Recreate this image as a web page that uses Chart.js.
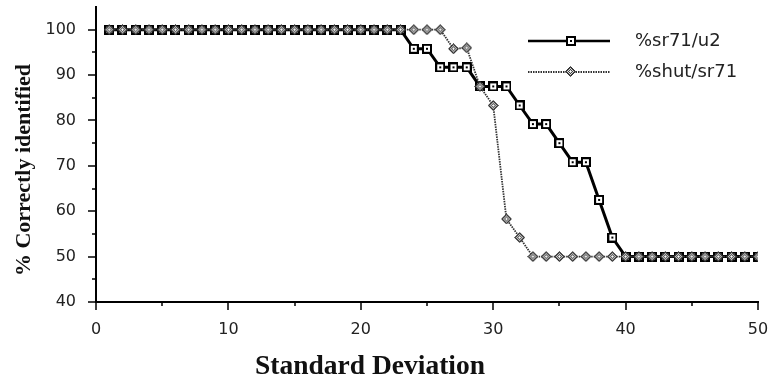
<!DOCTYPE html>
<html>
<head>
<meta charset="utf-8">
<script src="https://cdn.jsdelivr.net/npm/chart.js@4/dist/chart.umd.min.js"></script>
<style>
  html, body { margin: 0; padding: 0; background: #fff; }
</style>
</head>
<body>
<canvas id="sdChart" width="771" height="383"></canvas>
<script>
// standard deviation steps (x) and % correctly identified for each pair
const sdValues = [1, 2, 3, 4, 5, 6, 7, 8, 9, 10, 11, 12, 13, 14, 15, 16, 17, 18, 19, 20,
  21, 22, 23, 24, 25, 26, 27, 28, 29, 30, 31, 32, 33, 34, 35, 36, 37, 38, 39, 40,
  41, 42, 43, 44, 45, 46, 47, 48, 49, 50];
const sr71u2 = [100, 100, 100, 100, 100, 100, 100, 100, 100, 100, 100, 100, 100, 100, 100, 100, 100, 100, 100, 100,
  100, 100, 100, 95.8, 95.8, 91.7, 91.7, 91.7, 87.5, 87.5, 87.5, 83.3, 79.2, 79.2, 75, 70.8, 70.8, 62.5, 54.2, 50,
  50, 50, 50, 50, 50, 50, 50, 50, 50, 50];
const shutSr71 = [100, 100, 100, 100, 100, 100, 100, 100, 100, 100, 100, 100, 100, 100, 100, 100, 100, 100, 100, 100,
  100, 100, 100, 100, 100, 100, 95.8, 96, 87.5, 83.3, 58.3, 54.2, 50, 50, 50, 50, 50, 50, 50, 50,
  50, 50, 50, 50, 50, 50, 50, 50, 50, 50];
const seriesNames = ['%sr71/u2', '%shut/sr71'];

const xTicks = [0, 10, 20, 30, 40, 50];
const xMinorTicks = [5, 15, 25, 35, 45];
const yTicks = [40, 50, 60, 70, 80, 90, 100];
const yMinorTicks = [45, 55, 65, 75, 85, 95];

// little bitmaps for the markers, the old mac-style ones
function squareMarker() {
  const c = document.createElement('canvas');
  c.width = 10; c.height = 10;
  const g = c.getContext('2d');
  g.fillStyle = '#000'; g.fillRect(0, 0, 10, 10);
  g.fillStyle = '#fff'; g.fillRect(2, 2, 6, 6);
  g.fillStyle = '#000'; g.fillRect(4, 4, 2, 2);
  return c;
}

function diamondMarker() {
  const p = document.createElement('canvas');
  p.width = 2; p.height = 2;
  const pg = p.getContext('2d');
  pg.fillStyle = '#ddd'; pg.fillRect(0, 0, 2, 2);
  pg.fillStyle = '#444'; pg.fillRect(0, 0, 1, 1); pg.fillRect(1, 1, 1, 1);

  const c = document.createElement('canvas');
  c.width = 11; c.height = 11;
  const g = c.getContext('2d');
  g.beginPath();
  g.moveTo(5.5, 0.5); g.lineTo(10.5, 5.5); g.lineTo(5.5, 10.5); g.lineTo(0.5, 5.5);
  g.closePath();
  g.fillStyle = g.createPattern(p, 'repeat');
  g.fill();
  g.strokeStyle = '#333'; g.lineWidth = 1; g.stroke();
  g.fillStyle = '#fff'; g.fillRect(5, 5, 1, 1);
  return c;
}

const sqImg = squareMarker();
const diaImg = diamondMarker();

const decor = {
  id: 'decor',
  afterDraw(chart) {
    const { ctx, chartArea, scales: { x, y } } = chart;
    ctx.save();
    ctx.strokeStyle = '#000';
    ctx.lineWidth = 1.5;
    ctx.beginPath();
    xTicks.forEach(v => { const px = Math.round(x.getPixelForValue(v)); ctx.moveTo(px, chartArea.bottom); ctx.lineTo(px, chartArea.bottom + 8); });
    xMinorTicks.forEach(v => { const px = Math.round(x.getPixelForValue(v)); ctx.moveTo(px, chartArea.bottom); ctx.lineTo(px, chartArea.bottom + 4); });
    yTicks.forEach(v => { const py = Math.round(y.getPixelForValue(v)); ctx.moveTo(chartArea.left - 8, py); ctx.lineTo(chartArea.left, py); });
    yMinorTicks.forEach(v => { const py = Math.round(y.getPixelForValue(v)); ctx.moveTo(chartArea.left - 4, py); ctx.lineTo(chartArea.left, py); });
    ctx.stroke();

    // axis titles
    ctx.fillStyle = '#111';
    ctx.font = 'bold 27.5px "Liberation Serif"';
    ctx.textAlign = 'center';
    ctx.textBaseline = 'middle';
    ctx.fillText('Standard Deviation', 370, 367);
    ctx.save();
    ctx.translate(24, 170);
    ctx.rotate(-Math.PI / 2);
    ctx.font = 'bold 22px "Liberation Serif"';
    ctx.fillText('% Correctly identified', 0, 0);
    ctx.restore();

    // legend
    ctx.lineWidth = 2.5;
    ctx.strokeStyle = '#000';
    ctx.setLineDash([]);
    ctx.beginPath(); ctx.moveTo(528, 41); ctx.lineTo(610, 41); ctx.stroke();
    ctx.drawImage(sqImg, 566, 36);
    ctx.lineWidth = 1.8;
    ctx.strokeStyle = '#333';
    ctx.setLineDash([1.5, 1]);
    ctx.beginPath(); ctx.moveTo(528, 72); ctx.lineTo(610, 72); ctx.stroke();
    ctx.setLineDash([]);
    ctx.drawImage(diaImg, 565, 66);
    ctx.fillStyle = '#222';
    ctx.font = '18px "DejaVu Sans"';
    ctx.textAlign = 'left';
    ctx.fillText(seriesNames[0], 635, 41);
    ctx.fillText(seriesNames[1], 635, 72);
    ctx.restore();
  }
};

const ctx = document.getElementById('sdChart').getContext('2d');

const chart = new Chart(ctx, {
  type: 'line',
  data: {
    datasets: [{
      label: seriesNames[0],
      data: sdValues.map((v, i) => ({ x: v, y: sr71u2[i] })),
      borderColor: '#000',
      borderWidth: 3,
      pointStyle: sqImg,
      order: 2,
      fill: false
    }, {
      label: seriesNames[1],
      data: sdValues.map((v, i) => ({ x: v, y: shutSr71[i] })),
      borderColor: '#333',
      borderWidth: 1.8,
      borderDash: [1.5, 1],
      pointStyle: diaImg,
      order: 1,
      fill: false
    }]
  },
  options: {
    responsive: false,
    animation: false,
    devicePixelRatio: 1,
    layout: { padding: { top: 7, right: 13, left: 0, bottom: 0 } },
    plugins: { legend: { display: false }, tooltip: { enabled: false } },
    scales: {
      x: {
        type: 'linear',
        min: 0,
        max: 50,
        afterBuildTicks: s => { s.ticks = xTicks.map(v => ({ value: v })); },
        afterFit: s => { s.height = 81; s.paddingLeft = 0; s.paddingRight = 0; },
        grid: { display: false },
        border: { display: true, color: '#000', width: 2 },
        ticks: { color: '#222', font: { family: 'DejaVu Sans', size: 16 }, padding: 10, maxRotation: 0 }
      },
      y: {
        min: 40,
        max: 105,
        afterBuildTicks: s => { s.ticks = yTicks.map(v => ({ value: v })); },
        afterFit: s => { s.width = 96; s.paddingTop = 0; s.paddingBottom = 0; },
        grid: { display: false },
        border: { display: true, color: '#000', width: 2 },
        ticks: { color: '#222', font: { family: 'DejaVu Sans', size: 16 }, padding: 12 }
      }
    }
  },
  plugins: [decor]
});
</script>
</body>
</html>
